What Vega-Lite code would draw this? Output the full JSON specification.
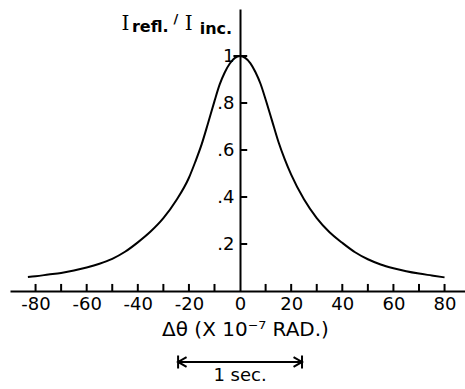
{
  "$schema": "https://vega.github.io/schema/vega-lite/v6.json",
  "width": 455,
  "height": 282,
  "autosize": "none",
  "padding": {"left": 10, "top": 9, "right": 0, "bottom": 98},
  "background": "white",
  "config": {
    "view": {"stroke": null},
    "font": "DejaVu Sans",
    "axis": {
      "grid": false,
      "ticks": false,
      "domainColor": "black",
      "labelColor": "black",
      "titleColor": "black",
      "domainWidth": 2
    }
  },
  "datasets": {
    "curve": [
      {"dtheta": -83, "ratio": 0.060},
      {"dtheta": -80, "ratio": 0.063},
      {"dtheta": -75, "ratio": 0.070},
      {"dtheta": -70, "ratio": 0.077},
      {"dtheta": -65, "ratio": 0.087},
      {"dtheta": -60, "ratio": 0.100},
      {"dtheta": -55, "ratio": 0.116},
      {"dtheta": -50, "ratio": 0.137},
      {"dtheta": -45, "ratio": 0.167},
      {"dtheta": -40, "ratio": 0.207},
      {"dtheta": -35, "ratio": 0.253},
      {"dtheta": -30, "ratio": 0.310},
      {"dtheta": -25, "ratio": 0.385},
      {"dtheta": -20, "ratio": 0.482},
      {"dtheta": -17.5, "ratio": 0.550},
      {"dtheta": -15, "ratio": 0.625},
      {"dtheta": -12.5, "ratio": 0.715},
      {"dtheta": -10, "ratio": 0.808},
      {"dtheta": -8, "ratio": 0.878},
      {"dtheta": -6, "ratio": 0.930},
      {"dtheta": -4, "ratio": 0.968},
      {"dtheta": -2, "ratio": 0.992},
      {"dtheta": 0, "ratio": 1.0},
      {"dtheta": 2, "ratio": 0.992},
      {"dtheta": 4, "ratio": 0.970},
      {"dtheta": 6, "ratio": 0.932},
      {"dtheta": 8, "ratio": 0.882},
      {"dtheta": 10, "ratio": 0.815},
      {"dtheta": 12.5, "ratio": 0.725},
      {"dtheta": 15, "ratio": 0.635},
      {"dtheta": 17.5, "ratio": 0.560},
      {"dtheta": 20, "ratio": 0.495},
      {"dtheta": 25, "ratio": 0.390},
      {"dtheta": 30, "ratio": 0.310},
      {"dtheta": 35, "ratio": 0.250},
      {"dtheta": 40, "ratio": 0.205},
      {"dtheta": 45, "ratio": 0.165},
      {"dtheta": 50, "ratio": 0.135},
      {"dtheta": 55, "ratio": 0.113},
      {"dtheta": 60, "ratio": 0.097},
      {"dtheta": 65, "ratio": 0.084},
      {"dtheta": 70, "ratio": 0.074},
      {"dtheta": 75, "ratio": 0.066},
      {"dtheta": 80, "ratio": 0.058}
    ],
    "xticks": [
      {"v": -80}, {"v": -70}, {"v": -60}, {"v": -50}, {"v": -40}, {"v": -30}, {"v": -20}, {"v": -10},
      {"v": 10}, {"v": 20}, {"v": 30}, {"v": 40}, {"v": 50}, {"v": 60}, {"v": 70}, {"v": 80}
    ],
    "yticks": [{"v": 0.2}, {"v": 0.4}, {"v": 0.6}, {"v": 0.8}]
  },
  "layer": [
    {
      "data": {"name": "curve"},
      "mark": {"type": "line", "interpolate": "monotone", "color": "black", "strokeWidth": 2},
      "encoding": {
        "x": {
          "field": "dtheta",
          "type": "quantitative",
          "scale": {"domain": [-90, 88], "nice": false},
          "axis": {
            "values": [-80, -60, -40, -20, 0, 20, 40, 60, 80],
            "labelExpr": "toString(datum.value)",
            "labelFontSize": 18,
            "labelPadding": 4,
            "labelFlush": false,
            "labelOverlap": false,
            "labelBound": false,
            "title": "Δθ (X 10⁻⁷ RAD.)",
            "titleFontSize": 20,
            "titleFontWeight": "normal",
            "titlePadding": 6,
            "titleX": 235
          }
        },
        "y": {
          "field": "ratio",
          "type": "quantitative",
          "scale": {"domain": [0, 1.2], "nice": false},
          "axis": {
            "offset": -230,
            "values": [0.2, 0.4, 0.6, 0.8, 1],
            "labelPadding": 6,
            "labelExpr": "datum.value == 1 ? '1' : replace(format(datum.value, '.1f'), '0.', '.')",
            "labelFontSize": 18,
            "labelFlush": false,
            "labelOverlap": false,
            "title": null
          }
        }
      }
    },
    {
      "data": {"name": "xticks"},
      "mark": {"type": "rule", "color": "black", "strokeWidth": 2},
      "encoding": {"x": {"field": "v", "type": "quantitative"}, "y": {"datum": 0}, "y2": {"datum": 0.03}}
    },
    {
      "data": {"name": "yticks"},
      "mark": {"type": "rule", "color": "black", "strokeWidth": 2},
      "encoding": {"y": {"field": "v", "type": "quantitative"}, "x": {"datum": 0}, "x2": {"datum": 2.8}}
    },
    {
      "data": {"values": [{}]},
      "mark": {"type": "rule", "color": "black", "strokeWidth": 2},
      "encoding": {"x": {"datum": -2.6}, "x2": {"datum": 2.8}, "y": {"datum": 1}}
    },
    {
      "data": {"values": [{}]},
      "mark": {"type": "text", "font": "DejaVu Serif", "fontSize": 20, "align": "left", "baseline": "alphabetic", "text": "I"},
      "encoding": {"x": {"datum": -46.4}, "y": {"datum": 1.11}}
    },
    {
      "data": {"values": [{}]},
      "mark": {"type": "text", "fontSize": 16, "fontWeight": "bold", "align": "left", "baseline": "alphabetic", "text": "refl."},
      "encoding": {"x": {"datum": -42.3}, "y": {"datum": 1.102}}
    },
    {
      "data": {"values": [{}]},
      "mark": {"type": "text", "fontSize": 13, "fontWeight": "bold", "align": "left", "baseline": "alphabetic", "text": "/"},
      "encoding": {"x": {"datum": -26.0}, "y": {"datum": 1.14}}
    },
    {
      "data": {"values": [{}]},
      "mark": {"type": "text", "font": "DejaVu Serif", "fontSize": 20, "align": "left", "baseline": "alphabetic", "text": "I"},
      "encoding": {"x": {"datum": -21.6}, "y": {"datum": 1.11}}
    },
    {
      "data": {"values": [{}]},
      "mark": {"type": "text", "fontSize": 16, "fontWeight": "bold", "align": "left", "baseline": "alphabetic", "text": "inc."},
      "encoding": {"x": {"datum": -15.8}, "y": {"datum": 1.095}}
    },
    {
      "data": {"values": [{}]},
      "mark": {"type": "rule", "color": "black", "strokeWidth": 2},
      "encoding": {"x": {"datum": -24.24}, "x2": {"datum": 24.24}, "y": {"datum": -0.302}}
    },
    {
      "data": {"values": [{}]},
      "mark": {"type": "point", "shape": "M0,-1L0,1M1.3,-0.75L0,0L1.3,0.75", "size": 170, "filled": false, "color": "black", "strokeWidth": 2, "opacity": 1},
      "encoding": {"x": {"datum": -24.24}, "y": {"datum": -0.302}}
    },
    {
      "data": {"values": [{}]},
      "mark": {"type": "point", "shape": "M0,-1L0,1M-1.3,-0.75L0,0L-1.3,0.75", "size": 170, "filled": false, "color": "black", "strokeWidth": 2, "opacity": 1},
      "encoding": {"x": {"datum": 24.24}, "y": {"datum": -0.302}}
    },
    {
      "data": {"values": [{}]},
      "mark": {"type": "text", "fontSize": 18, "align": "center", "baseline": "middle", "text": "1 sec."},
      "encoding": {"x": {"datum": 0}, "y": {"datum": -0.362}}
    }
  ]
}
